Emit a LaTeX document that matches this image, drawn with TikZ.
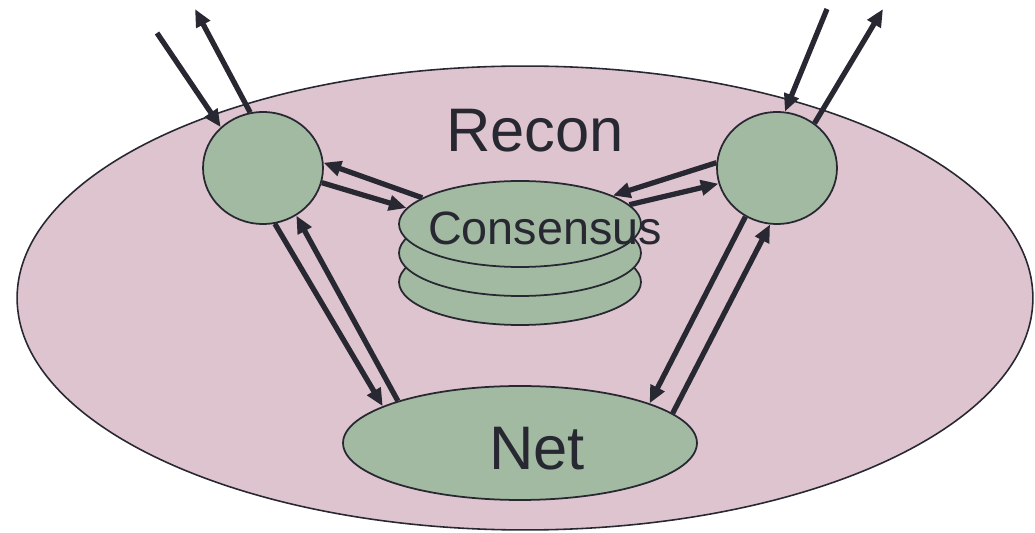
\documentclass[tikz,border=0pt]{standalone}
\usepackage{fontspec}
\setmainfont{Liberation Sans}
\usetikzlibrary{arrows.meta,shapes.geometric}
\definecolor{reconpink}{HTML}{DEC4CE}
\definecolor{nodegreen}{HTML}{A2BAA2}
\definecolor{inkdark}{HTML}{282833}
\tikzset{
    blob/.style={ellipse, draw=inkdark, line width=1pt, fill=nodegreen, inner sep=0pt},
    arr/.style={-{Triangle[length=10pt,width=8.5pt]}, draw=inkdark, line width=3pt},
    bigtext/.style={anchor=base, text=inkdark, font=\fontsize{35}{40}\selectfont},
}
\begin{document}
\begin{tikzpicture}[x=0.02cm, y=-0.02cm]
    \useasboundingbox (0,0) rectangle (1035,533);
    \node[ellipse, draw=inkdark, line width=0.9pt, fill=reconpink, inner sep=0pt,
          minimum width=20.32cm, minimum height=9.28cm] (recon) at (525,298) {}; % Recon
    \node[blob, minimum width=2.4cm, minimum height=2.24cm] (lc) at (263,168) {};
    \node[blob, minimum width=2.4cm, minimum height=2.24cm] (rc) at (777,168) {};
    \foreach \y/\name in {282/cs3, 253/cs2, 224/cs} { % stack
        \node[blob, minimum width=4.84cm, minimum height=1.72cm] (\name) at (520,\y) {};
    }
    \node[blob, minimum width=7.08cm, minimum height=2.28cm] (net) at (520,443) {};
    \coordinate (lin) at (157,33);
    \coordinate (lout) at (195,9);
    \coordinate (rin) at (827,9);
    \coordinate (rout) at (883,9);
    \foreach \a/\b in {lin/lc.136, lc.103/lout, rin/rc.82, rc.50/rout,
                       cs.165/lc.5, lc.-14/cs.172, rc.175/cs.17, cs.10/rc.-165,
                       lc.-78/net.165, net.161/lc.-55, rc.237/net.17, net.11/rc.-97} {
        \draw[arr] (\a) -- (\b);
    }
    \node[bigtext] (recontxt) at (535,152) {Recon};
    \node[bigtext, font=\fontsize{26.6}{30}\selectfont] (cstxt) at (545,245) {Consensus};
    \node[bigtext] (nettxt) at (537,470) {Net};
\end{tikzpicture}
\end{document}
